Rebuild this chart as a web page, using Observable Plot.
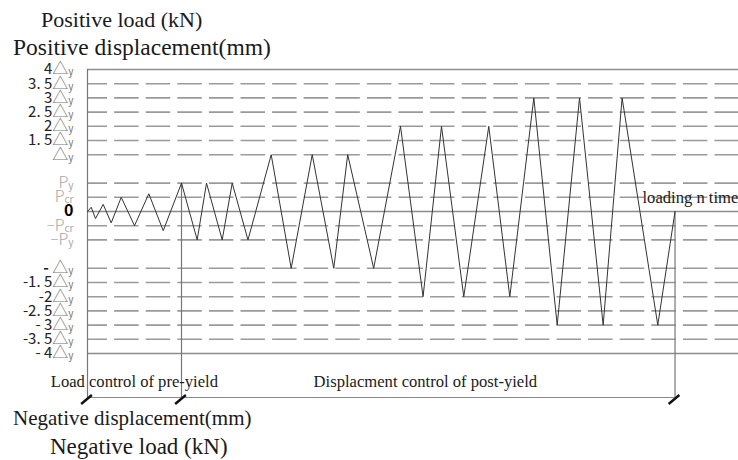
<!DOCTYPE html>
<html><head><meta charset="utf-8">
<script src="https://cdn.jsdelivr.net/npm/d3@7"></script>
<script src="https://cdn.jsdelivr.net/npm/@observablehq/plot@0.6"></script>
<style>
body{margin:0;background:#fff}
#wrap{position:relative;width:738px;height:460px;overflow:hidden;background:#fff}
.t{position:absolute;font-family:'Liberation Serif','Times New Roman',serif;line-height:1;color:#1a1a1a;white-space:nowrap}
#chart{position:absolute;left:0;top:58px}
</style></head><body>
<div id="wrap">
<div class="t" style="left:41px;top:9px;font-size:22px">Positive load (kN)</div>
<div class="t" style="left:13px;top:36px;font-size:23.5px">Positive displacement(mm)</div>
<div id="chart"></div>
<div class="t" style="left:13px;top:408px;font-size:21px">Negative displacement(mm)</div>
<div class="t" style="left:50px;top:435px;font-size:23px">Negative load (kN)</div>
</div>
<script>
// Level values (in half-Δy steps) and their labels
const levels = [10, 9, 8, 7, 6, 5, 4, 2, 1, 0, -1, -2, -4, -5, -6, -7, -8, -9, -10];
const levelLabels = ["4△y", "3. 5△y", "3△y", "2. 5△y", "2△y", "1. 5△y", "△y", "Py", "Pcr", "0",
  "−Pcr", "−Py", "- △y", "-1. 5△y", "-2△y", "-2. 5△y", "- 3△y", "-3. 5△y", "- 4△y"];
const solidLevels = [10, 0, -10];

// Loading history: time vs load/displacement level
const loadTime = [0, 0.57, 1.23, 2.41, 3.64, 5.18, 7.22, 9.42, 11.63, 14.44, 16.85, 18.28, 20.69, 22.23, 24.65,
  28.22, 31.29, 34.52, 37.83, 39.97, 43.96, 48.08, 51.55, 54.38, 57.80, 61.64, 64.87,
  68.56, 72.15, 75.58, 79.21, 82.12, 87.60, 90.25];
const loadValue = [0, 0.3, -0.5, 0.5, -0.8, 1, -1, 1.25, -1.35, 2, -2, 2, -2, 2, -2,
  4, -4, 4, -4, 4, -4, 6, -6, 6, -6, 6, -6,
  8, -8, 8, -8, 8, -8, 0];

// Phase bracket annotation
const bracketLevel = -13.1;
const phaseBounds = [0, 14.44, 90.25];
const phaseTops = [10, 2, 0];
const phaseLabels = ["Load control of pre-yield", "Displacment control of post-yield"];
const phaseLabelX = [7.2, 51.9];
const phaseLabelLevel = -12;
const noteText = "loading n time";
const noteX = 85.25;
const noteLevel = 1;

const dashedLevels = levels.filter(d => !solidLevels.includes(d));
const series = loadTime.map((t, i) => ({t, v: loadValue[i]}));
const verticals = phaseBounds.map((t, i) => ({t, top: phaseTops[i], bottom: bracketLevel}));
const corners = phaseBounds.map(t => ({t, v: bracketLevel}));

const slash = {
  draw(ctx, size) {
    const r = Math.sqrt(size / Math.PI);
    const a = 50 * Math.PI / 180;
    const dx = r * Math.sin(a), dy = r * Math.cos(a);
    ctx.moveTo(-dx, dy);
    ctx.lineTo(dx, -dy);
  }
};

const serif = "'Liberation Serif','Times New Roman',serif";

const chart = Plot.plot({
  width: 738,
  height: 346,
  marginLeft: 87,
  marginRight: 0,
  marginTop: 11,
  marginBottom: 51,
  x: {domain: [0, 100], axis: null},
  y: {domain: [-10, 10], axis: null},
  style: {background: "transparent", overflow: "visible"},
  marks: [
    Plot.ruleY(dashedLevels, {y: d => d, stroke: "#9a9a9a", strokeWidth: 1.6, strokeDasharray: "24.5,7.1", strokeDashoffset: 4.5}),
    Plot.ruleY(solidLevels, {y: d => d, stroke: "#8c8c8c", strokeWidth: 1.3}),
    Plot.ruleX(verticals, {x: "t", y1: "top", y2: "bottom", stroke: "#777", strokeWidth: 1.2}),
    Plot.ruleY([{v: bracketLevel, a: phaseBounds[0], b: phaseBounds[2]}], {y: "v", x1: "a", x2: "b", stroke: "#888", strokeWidth: 1.2}),
    Plot.line(series, {x: "t", y: "v", stroke: "#333", strokeWidth: 1}),
    Plot.dot(corners, {x: "t", y: "v", symbol: slash, r: 7, stroke: "#111", strokeWidth: 2.4, fill: "none", dy: 2, dx: -1}),
    Plot.text(phaseLabels, {x: (d, i) => phaseLabelX[i], y: () => phaseLabelLevel, text: d => d, fontFamily: serif, fontSize: 16.6, fill: "#1a1a1a"}),
    Plot.text([noteText], {x: () => noteX, y: () => noteLevel, text: d => d, textAnchor: "start", dy: 0, fontFamily: serif, fontSize: 16.6, fill: "#1a1a1a"}),
    Plot.text(levels, {y: d => d, text: (d, i) => levelLabels[i], frameAnchor: "left", dx: -14, textAnchor: "end",
      fontFamily: "'Noto Sans CJK JP','Noto Sans',sans-serif", fontSize: 15, fill: "#222"})
  ]
});
document.getElementById("chart").appendChild(chart);

// Style the level labels: number, symbol (△ or P) and subscript
const NS = "http://www.w3.org/2000/svg";
const labelSet = new Set(levelLabels);
chart.querySelectorAll("text").forEach(node => {
  const s = node.textContent;
  if (!labelSet.has(s)) return;
  const m = s.match(/^(.*?)(△|P)(.*)$/);
  node.textContent = "";
  const add = (txt, attrs) => {
    const ts = document.createElementNS(NS, "tspan");
    for (const k in attrs) ts.setAttribute(k, attrs[k]);
    ts.textContent = txt;
    node.appendChild(ts);
    return ts;
  };
  if (!m) {
    add(s, {"font-weight": "bold", "font-size": 16, fill: "#000"});
    return;
  }
  const [, pre, sym, sub] = m;
  if (sym === "P") {
    if (pre) add(pre, {fill: "#aaa", "font-size": 15, "font-weight": 300});
    add("P", {fill: "#a8a8a8", "font-size": 16, "font-weight": 300});
    add(sub, {fill: "#a8a8a8", "font-size": 10, dy: 1});
  } else {
    if (pre) add(pre, {fill: "#222", "font-size": 15, "font-weight": pre.trim() === "-" ? "bold" : "normal"});
    add("△", {fill: "#777", "font-size": 16});
    add(sub, {fill: "#777", "font-size": 10, dy: 1});
  }
});
</script>
</body></html>
